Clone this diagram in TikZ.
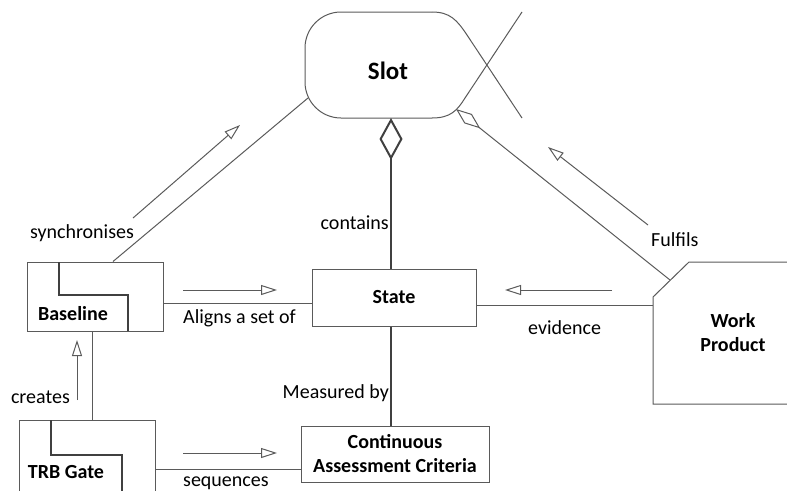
\documentclass[tikz,border=0pt]{standalone}
\usepackage{fontspec}
\setmainfont{Carlito}
\usetikzlibrary{arrows.meta}

\definecolor{linegray}{HTML}{5A5A5A}
\definecolor{strokedark}{HTML}{404040}

\tikzset{
  box/.style={draw=linegray, line width=1pt, inner sep=0pt, fill=white},
  conn/.style={draw=linegray, line width=1pt},
  strongline/.style={draw=strokedark, line width=2.8pt},
  stairline/.style={draw=strokedark, line width=2.4pt},
  flow/.style={draw=linegray, line width=1pt,
    -{Triangle[open, length=16pt, width=10pt]}},
  lbl/.style={inner sep=0pt, font=\fontsize{20}{24}\selectfont},
  title/.style={inner sep=0pt, font=\bfseries\fontsize{20}{24}\selectfont, align=center},
}

\begin{document}
\begin{tikzpicture}[x=1pt, y=-1pt]
\useasboundingbox (0,0) rectangle (787,490);

% ---- Slot: rounded on the left, crossed lines on the right
\draw[conn, rounded corners=36pt] (432,12) -- (305,12) -- (305,118) -- (432,118);
\draw[conn] (522,118) -- (467,35) .. controls (457,20) and (450,12) .. (432,12);
\draw[conn] (522,12) -- (465,98) .. controls (457,111) and (450,118) .. (432,118);
\node[title, font=\bfseries\fontsize{25}{30}\selectfont] (slot) at (388,71) {Slot};
\coordinate (slotL) at (308,98);
\coordinate (slotB) at (391,118);
\coordinate (slotR) at (456,109);

% ---- Boxes
\node[box, minimum width=164pt, minimum height=57pt] (state) at (394,297.5) {};
\node[title] (stateLbl) at (394,297) {State};

\node[box, minimum width=188pt, minimum height=56pt] (cac) at (395,454) {};
\node[title] (cacLbl) at (395,454) {Continuous\\Assessment Criteria};

\node[box, minimum width=136pt, minimum height=69pt] (baseline) at (95,296.5) {};
\draw[stairline] (59,262) -- (59,295) -- (128,295) -- (128,331);
\node[title] (baselineLbl) at (73,314) {Baseline};

\node[box, minimum width=136pt, minimum height=73pt] (trb) at (87,456.5) {};
\draw[stairline] (51,420) -- (51,455) -- (122,455) -- (122,494);
\node[title] (trbLbl) at (66,472) {TRB Gate};

% ---- Work Product: bevelled corner, running off the right edge
\draw[conn, fill=white] (790,262) -- (689,262) -- (653,297) -- (653,404) -- (790,404);
\node[title] (wpLbl) at (733,333) {Work\\Product};
\coordinate (wpBevel) at (670,280);
\coordinate (wpSide) at (653,350);

% ---- Connectors
\draw[conn] ([xshift=18pt]baseline.north) -- (slotL);
\draw[conn, {Diamond[open, length=31pt, width=12pt]}-] (slotR) -- (wpBevel);
\draw[strongline, {Diamond[open, length=42pt, width=23pt, line width=2pt]}-]
  (slotB) -- (slotB |- state.north);
\draw[strongline] ([xshift=-3pt]state.south) -- ([xshift=-3pt]state.south |- cac.north);
\draw[conn] ([yshift=-6.5pt]baseline.east) -- ([yshift=-6.5pt]baseline.east -| state.west);
\draw[conn] ([yshift=-7.5pt]state.east) -- ([yshift=-7.5pt]state.east -| wpSide);
\draw[conn] ([xshift=-3pt]baseline.south) -- ([xshift=-3pt]baseline.south |- trb.north);
\draw[conn] ([yshift=-15pt]cac.west) -- ([yshift=-15pt]cac.west -| trb.east);

% ---- Direction arrows beside the connectors
\coordinate (syncA) at (133,218);  \coordinate (syncB) at (240,125);
\coordinate (fulA)  at (648,225);  \coordinate (fulB)  at (548,147);
\coordinate (aliA)  at (183,290);  \coordinate (aliB)  at (277,290);
\coordinate (seqA)  at (183,453);  \coordinate (seqB)  at (277,453);
\coordinate (eviA)  at (612,290);  \coordinate (eviB)  at (505,290);
\coordinate (creA)  at (77,400);   \coordinate (creB)  at (77,340);
\draw[flow] (syncA) -- (syncB);
\draw[flow] (fulA) -- (fulB);
\draw[flow] (aliA) -- (aliB);
\draw[flow] (seqA) -- (seqB);
\draw[flow] (eviA) -- (eviB);
\draw[flow] (creA) -- (creB);

% ---- Labels
\node[lbl] (syncLbl) at (82,233) {synchronises};
\node[lbl, anchor=east] (containsLbl) at (389,223) {contains};
\node[lbl, anchor=east] (measLbl) at (389,393) {Measured by};
\node[lbl, anchor=west] (alignLbl) at (183,318) {Aligns a set of};
\node[lbl, anchor=west] (seqLbl) at (183,483) {sequences};
\node[lbl, anchor=west] (eviLbl) at (528,328) {evidence};
\node[lbl, anchor=west] (fulLbl) at (651,240) {Fulfils};
\node[lbl, anchor=east] (creLbl) at (70,397) {creates};
\end{tikzpicture}
\end{document}
